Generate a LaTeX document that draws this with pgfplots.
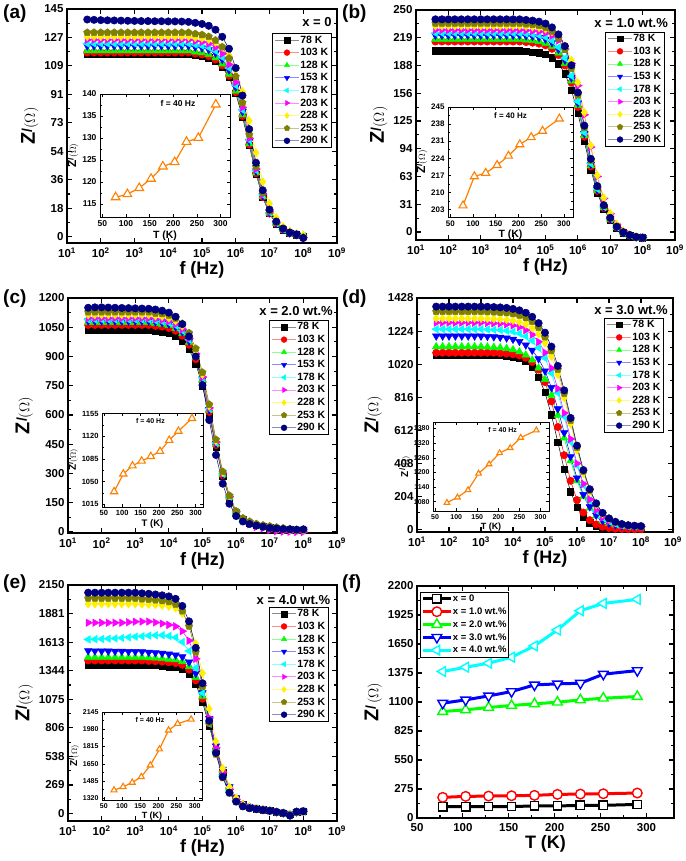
\documentclass[border=0pt]{standalone}
\usepackage{fontspec}
\setmainfont{Liberation Sans}
\usepackage{pgfplots}
\usepackage{pgfplotstable}
\pgfplotsset{compat=1.18}

\definecolor{cgreen}{RGB}{0,255,0}
\definecolor{ccyan}{RGB}{0,255,255}
\definecolor{cmag}{RGB}{255,0,255}
\definecolor{cyel}{RGB}{255,240,0}
\definecolor{colive}{RGB}{128,128,0}
\definecolor{cnavy}{RGB}{0,0,128}
\definecolor{corange}{RGB}{255,128,0}

\newcommand{\fs}[1]{\fontsize{#1}{#1}\selectfont}
\newcommand{\zlab}[2]{{\fs{#1}\bfseries Z}\raisebox{0.55ex}{\fs{#2}\bfseries /}{\fs{#2}$(\Omega)$}}
\newcommand{\tsup}[1]{10\textsuperscript{#1}}

% columns: f, then 78 103 128 153 178 203 228 253 290 K
\pgfplotstableread{
f c1 c2 c3 c4 c5 c6 c7 c8 c9
39.8 116.3 117.3 118.4 121.5 123.0 125.4 127.4 130.0 138.3
63.1 116.3 117.3 118.4 121.5 123.0 125.4 127.4 130.0 138.1
100 116.3 117.3 118.4 121.5 123.0 125.4 127.4 130.0 137.9
158 116.3 117.3 118.4 121.5 123.0 125.4 127.4 130.0 137.8
251 116.3 117.3 118.4 121.5 123.0 125.4 127.4 130.0 137.7
398 116.3 117.3 118.4 121.5 123.0 125.4 127.4 130.0 137.6
631 116.3 117.3 118.4 121.5 123.0 125.4 127.4 130.0 137.5
1000 116.3 117.3 118.4 121.5 123.0 125.4 127.4 130.0 137.4
1585 116.3 117.3 118.4 121.5 123.0 125.4 127.4 130.0 137.3
2512 116.3 117.3 118.4 121.5 123.0 125.4 127.4 130.0 137.3
3981 116.3 117.3 118.4 121.5 123.0 125.4 127.4 130.0 137.2
6310 116.3 117.3 118.4 121.5 123.0 125.4 127.4 130.0 137.2
1e4 116.3 117.3 118.4 121.5 123.0 125.4 127.4 130.0 137.1
1.585e4 116.3 117.3 118.4 121.5 123.0 125.4 127.4 130.0 137.1
2.512e4 116.3 117.3 118.4 121.5 123.0 125.4 127.4 130.0 137.0
3.981e4 116.3 117.3 118.4 121.5 123.0 125.4 127.4 130.0 136.8
6.31e4 115.6 116.6 117.7 120.8 122.3 124.6 126.8 129.2 136.2
1e5 115.0 116.0 117.1 120.2 121.6 124.0 126.4 128.6 135.5
1.585e5 114.0 115.0 116.0 119.1 120.5 122.9 125.5 127.4 134.3
2.512e5 111.9 112.8 113.9 116.9 118.3 120.6 123.8 125.1 131.8
3.981e5 108.0 109.0 110.0 112.9 114.3 116.5 120.8 120.8 127.3
6.31e5 101.6 102.5 103.5 106.2 107.5 109.6 115.3 113.6 119.7
1e6 91.2 92.0 92.8 95.3 96.4 98.3 106.3 101.9 107.4
1.585e6 76.3 76.9 77.7 79.7 80.7 82.3 92.4 85.3 89.9
2.512e6 58.2 58.7 59.2 60.8 61.5 62.7 73.9 65.0 68.5
3.981e6 40.0 40.4 40.7 41.8 42.3 43.1 53.5 44.7 47.1
6.31e6 25.1 25.3 25.6 26.2 26.6 27.1 35.0 28.1 29.6
1e7 14.7 14.8 14.9 15.3 15.5 15.8 21.1 16.4 17.3
1.585e7 8.3 8.3 8.4 8.6 8.7 8.9 12.1 9.2 9.7
2.512e7 4.4 4.5 4.5 4.6 4.7 4.8 6.6 4.9 5.2
3.981e7 2.3 2.3 2.4 2.4 2.5 2.5 3.6 2.6 2.7
6.31e7 1.3 1.3 1.3 1.3 1.4 1.4 1.9 1.4 1.5
1e8 0.2 -0.5 0.8 -0.3 0.4 -0.6 1.0 -0.4 -0.8
}\tabA

\pgfplotstableread{
f c1 c2 c3 c4 c5 c6 c7 c8 c9
39.8 204 214.5 217 221.5 224 227.5 232 235 239.5
63.1 204 214.5 217 221.5 224 227.5 232 235 239.5
100 204 214.5 217 221.5 224 227.5 232 235 239.5
158 204 214.5 217 221.5 224 227.5 232 235 239.5
251 204 214.5 217 221.5 224 227.5 232 235 239.5
398 204 214.5 217 221.5 224 227.5 232 235 239.5
631 204 214.5 217 221.5 224 227.5 232 235 239.5
1000 204 214.5 217 221.5 224 227.5 232 235 239.5
1585 204 214.5 217 221.5 224 227.5 232 235 239.5
2512 204 214.5 217 221.5 224 227.5 232 235 239.5
3981 204 214.5 217 221.5 224 227.5 232 235 239.5
6310 204 214.5 217 221.5 224 227.5 232 235 239.5
1e4 204 214.5 217 221.5 224 227.5 232 235 239.5
1.585e4 204 214.5 217 221.5 224 227.5 232 235 239.5
2.512e4 203.4 213.9 216.3 220.8 223.3 227.0 231.5 234.3 238.8
3.981e4 202.8 213.2 215.7 220.2 222.7 226.4 230.8 233.6 238.1
6.31e4 201.8 212.1 214.6 219.1 221.5 225.7 230.1 232.4 236.9
1e5 199.9 210.2 212.7 217.1 219.5 224.1 228.5 230.3 234.7
1.585e5 196.2 206.3 208.8 213.1 215.5 221.1 225.5 226.1 230.4
2.512e5 189.5 199.3 201.6 205.8 208.1 215.7 219.9 218.3 222.5
3.981e5 178.3 187.5 189.7 193.6 195.8 205.9 210.0 205.4 209.3
6.31e5 159.9 168.2 170.1 173.7 175.6 189.7 193.5 184.2 187.8
1e6 133.8 140.7 142.4 145.3 146.9 164.9 168.2 154.2 157.1
1.585e6 102.0 107.3 108.5 110.8 112.0 132.0 134.6 117.5 119.8
2.512e6 70.2 73.8 74.6 76.2 77.1 95.6 97.4 80.8 82.4
3.981e6 44.1 46.3 46.9 47.8 48.4 62.6 63.8 50.8 51.7
6.31e6 25.7 27.0 27.3 27.9 28.2 37.8 38.5 29.6 30.2
1e7 13.5 14.2 14.4 14.7 14.9 20.6 21.0 15.7 16.0
1.585e7 4.8 5.2 5.2 5.4 5.5 8.8 9.1 5.9 6.1
2.512e7 -0.9 -0.7 -0.7 -0.6 -0.5 1.4 1.5 -0.3 -0.2
3.981e7 -3.8 -3.6 -3.6 -3.6 -3.5 -2.6 -2.5 -3.4 -3.4
6.31e7 -5.8 -5.7 -5.7 -5.7 -5.7 -5.2 -5.1 -5.6 -5.6
1e8 -6.4 -6.4 -6.3 -6.3 -6.3 -6.1 -6.1 -6.3 -6.3
}\tabB

\pgfplotstableread{
f c1 c2 c3 c4 c5 c6 c7 c8 c9
39.8 1035 1062 1075 1082 1089 1097 1114 1128 1150
63.1 1035 1062 1075 1082 1089 1097 1114 1128 1152
100 1035 1062 1075 1082 1089 1097 1114 1128 1152
158 1035 1062 1075 1082 1089 1097 1114 1128 1151
251 1035 1062 1075 1082 1089 1097 1114 1128 1150
398 1035 1062 1075 1082 1089 1097 1114 1128 1149
631 1035 1062 1075 1082 1089 1097 1114 1128 1148
1000 1035 1062 1075 1082 1089 1097 1114 1128 1147
1585 1035 1062 1075 1082 1089 1097 1114 1128 1146
2512 1035 1062 1075 1082 1089 1097 1114 1128 1145
3981 1030 1057 1070 1077 1084 1092 1108 1122 1141
6310 1027 1053 1066 1073 1080 1088 1105 1119 1135
1e4 1019 1046 1059 1066 1073 1081 1097 1111 1125
1.585e4 1006 1032 1045 1052 1059 1066 1083 1096 1104
2.512e4 981 1007 1019 1026 1032 1040 1056 1069 1066
3.981e4 937 961 973 979 986 993 1008 1021 1003
6.31e4 863 886 897 902 908 915 929 941 900
1e5 750 770 779 784 790 795 808 818 753
1.585e5 600 616 624 628 632 636 646 654 574
2.512e5 435 446 452 454 457 461 468 474 395
3.981e5 285 292 296 298 299 302 306 310 248
6.31e5 172 176 178 180 181 182 185 187 145
1e6 98 101 102 103 103 104 106 107 82
1.585e6 64 65 66 66 67 62 68 71 54
2.512e6 47 48 48 48 48 40 49 54 41
3.981e6 36 36 36 36 36 26 37 42 33
6.31e6 28 28 29 29 29 19 29 35 27
1e7 22 22 22 22 22 10 22 30 21
1.585e7 18 18 18 18 18 4 18 24 18
2.512e7 14 14 14 14 14 2 14 20 15
3.981e7 12 12 12 12 12 1 12 16 14
6.31e7 10 10 10 10 10 0 10 12 12
1e8 10 10 10 10 10 0 10 10 14
}\tabC

\pgfplotstableread{
f c1 c2 c3 c4 c5 c6 c7 c8 c9
39.8 1077 1090 1128 1193 1236 1276 1302 1344 1375
63.1 1077 1090 1128 1193 1236 1276 1302 1344 1375
100 1077 1090 1128 1193 1236 1276 1302 1344 1375
158 1077 1090 1128 1193 1236 1276 1302 1344 1375
251 1077 1090 1128 1193 1236 1276 1302 1344 1375
398 1077 1090 1128 1193 1236 1276 1302 1344 1375
631 1077 1090 1128 1193 1236 1276 1302 1344 1375
1000 1077 1090 1128 1193 1236 1276 1302 1344 1375
1585 1077 1090 1126 1191 1234 1274 1301 1343 1374
2512 1077 1090 1124 1188 1232 1272 1299 1341 1372
3981 1074 1087 1121 1186 1230 1270 1297 1339 1370
6310 1071 1085 1117 1181 1226 1266 1294 1336 1367
1e4 1065 1081 1109 1173 1220 1259 1289 1331 1361
1.585e4 1055 1074 1096 1160 1209 1248 1280 1321 1352
2.512e4 1036 1059 1076 1138 1192 1230 1266 1306 1337
3.981e4 1000 1033 1045 1105 1164 1202 1242 1282 1312
6.31e4 941 986 996 1053 1121 1157 1206 1245 1273
1e5 844 909 925 978 1057 1091 1150 1187 1214
1.585e5 707 790 828 876 964 995 1068 1102 1128
2.512e5 539 632 704 744 842 869 956 986 1009
3.981e5 370 458 564 597 696 718 812 839 858
6.31e5 233 300 424 449 540 558 651 672 688
1e6 136 181 300 317 394 407 490 505 517
1.585e6 76 104 203 215 272 281 346 358 366
2.512e6 41 57 132 140 179 185 234 242 248
3.981e6 22 31 83 88 115 119 152 157 161
6.31e6 12 16 52 55 72 74 96 99 102
1e7 6 9 37 38 49 51 65 67 68
1.585e7 3 5 27 28 35 36 44 46 47
2.512e7 2 3 21 22 26 27 32 33 33
3.981e7 1 2 19 19 22 22 25 25 26
6.31e7 1 1 19 19 20 20 22 22 22
1e8 1 1 17 17 18 18 19 19 20
}\tabD

\pgfplotstableread{
f c1 c2 c3 c4 c5 c6 c7 c8 c9
39.8 1399 1440 1471 1532 1638 1795 1972 2025 2078
63.1 1399 1440 1471 1530 1640 1795 1972 2025 2078
100 1399 1440 1471 1529 1642 1795 1972 2025 2078
158 1399 1440 1471 1528 1645 1795 1972 2025 2078
251 1399 1440 1471 1527 1648 1795 1972 2025 2078
398 1399 1440 1471 1526 1652 1795 1972 2025 2078
631 1399 1440 1471 1525 1658 1800 1972 2025 2078
1000 1399 1440 1471 1524 1664 1805 1972 2025 2078
1585 1399 1440 1471 1523 1668 1806 1970 2019 2072
2512 1395 1436 1467 1517 1674 1806 1968 2015 2068
3981 1392 1433 1464 1513 1677 1798 1964 2009 2061
6310 1388 1429 1459 1508 1678 1787 1958 2001 2053
1e4 1382 1423 1453 1501 1670 1775 1948 1991 2043
1.585e4 1375 1416 1446 1492 1656 1761 1933 1968 2020
2.512e4 1360 1400 1430 1475 1614 1716 1883 1904 1953
3.981e4 1315 1354 1383 1425 1529 1626 1785 1762 1808
6.31e4 1217 1253 1280 1318 1369 1456 1597 1519 1559
1e5 1049 1080 1103 1136 1132 1204 1321 1195 1226
1.585e5 825 850 868 894 845 899 986 851 873
2.512e5 588 605 618 636 581 618 678 557 571
3.981e5 385 396 405 417 365 388 426 336 345
6.31e5 232 239 244 251 213 226 248 192 197
1e6 138 142 145 149 125 133 145 110 113
1.585e6 83 85 86 89 74 78 85 67 68
2.512e6 59 60 61 62 54 56 59 50 51
3.981e6 46 47 47 48 44 45 47 41 42
6.31e6 36 37 37 37 35 36 37 33 33
1e7 28 28 28 28 27 27 28 26 26
1.585e7 15 15 15 15 15 15 15 15 15
2.512e7 5 5 5 5 5 5 5 5 5
3.981e7 -10 -12 -8 -10 -14 -9 -11 -13 -20
6.31e7 15 14 16 15 13 15 16 14 18
1e8 20 19 21 20 18 20 21 19 22
}\tabE

\newcommand{\ninecurves}[1]{%
  \addplot[black, line width=0.5pt, mark=square*, mark size=3.1pt] table[x=f,y=c1]{#1};
  \addplot[red, line width=0.5pt, mark=*, mark size=3.7pt] table[x=f,y=c2]{#1};
  \addplot[cgreen, line width=0.5pt, mark=triangle*, mark size=4.3pt] table[x=f,y=c3]{#1};
  \addplot[blue, line width=0.5pt, mark=triangle*, mark size=4.3pt, mark options={rotate=180}] table[x=f,y=c4]{#1};
  \addplot[ccyan, line width=0.5pt, mark=triangle*, mark size=4.3pt, mark options={rotate=90}] table[x=f,y=c5]{#1};
  \addplot[cmag, line width=0.5pt, mark=triangle*, mark size=4.3pt, mark options={rotate=-90}] table[x=f,y=c6]{#1};
  \addplot[cyel, line width=0.5pt, mark=diamond*, mark size=4.1pt] table[x=f,y=c7]{#1};
  \addplot[colive, line width=0.5pt, mark=pentagon*, mark size=3.8pt] table[x=f,y=c8]{#1};
  \addplot[cnavy, line width=0.5pt, mark=*, mark size=3.7pt] table[x=f,y=c9]{#1};
  \legend{78 K,103 K,128 K,153 K,178 K,203 K,228 K,253 K,290 K}}

\begin{document}
\begin{tikzpicture}
\useasboundingbox (0pt,0pt) rectangle (685pt,-861pt);

% ---------- (a)
\begin{axis}[scale only axis, at={(67pt,-243pt)}, anchor=south west, width=270pt, height=234pt,
  xmode=log, xmin=10, xmax=1e9,
  xtick={1e1,1e2,1e3,1e4,1e5,1e6,1e7,1e8,1e9},
  xticklabels={\tsup{1},\tsup{2},\tsup{3},\tsup{4},\tsup{5},\tsup{6},\tsup{7},\tsup{8},\tsup{9}},
  xminorticks=false, minor y tick num=1,
  tick align=inside, major tick length=5pt, minor tick length=3pt,
  axis line style={line width=1.4pt}, every tick/.style={black, line width=1.1pt},
  tick label style={font=\bfseries\fs{11.5}}, xticklabel style={yshift=-1pt},
  xlabel={f (Hz)}, xlabel style={font=\bfseries\fs{18}, yshift=3pt},
  ylabel={\zlab{20}{14}}, ylabel style={yshift=-1pt},
  legend cell align=left,
  legend image code/.code={\draw[#1, mark=none, draw opacity=0.45, line width=0.9pt] (0pt,0pt) -- (24pt,0pt); \draw[#1, mark size=2.9pt] plot coordinates {(12pt,0pt)};},
  legend style={at={(0.981,0.897)}, anchor=north east, font=\bfseries\fs{10.5}, draw=black, line width=0.6pt,
    inner sep=1pt, inner xsep=2.5pt, row sep=1.4pt, nodes={inner sep=0.8pt, text height=7.8pt, text depth=1.8pt},
    /tikz/every even column/.append style={column sep=2pt}},
  ymin=-4, ymax=145,
  ytick={0,18.125,36.25,54.375,72.5,90.625,108.75,126.875,145},
  yticklabels={0,18,36,54,73,91,109,127,145}]
\ninecurves{\tabA}
\node[anchor=north east, font=\bfseries\fs{13}, inner sep=0pt] at (rel axis cs:0.981,0.965) {x = 0};
\end{axis}
\begin{axis}[scale only axis, at={(100pt,-217pt)}, anchor=south west, width=130pt, height=123pt,
  axis background/.style={fill=white},
  xmin=45, xmax=320, xtick={50,100,150,200,250,300}, minor y tick num=1,
  tick align=inside, major tick length=3pt, minor tick length=1.8pt,
  axis line style={line width=0.8pt}, every tick/.style={black, line width=0.6pt},
  /pgf/number format/assume math mode=true, /pgf/number format/1000 sep={},
  xlabel={T (K)}, xlabel style={yshift=3pt, font=\bfseries\fs{10.5}},
  ylabel={\zlab{12}{9}}, ylabel style={yshift=-3pt},
  ymin=112, ymax=140, ytick={115,120,125,130,135,140},
  tick label style={font=\bfseries\fs{8.5}}]
\addplot[corange, line width=1.2pt, mark=triangle*, mark size=5pt, mark options={fill=white, line width=1.1pt}]
  coordinates {(78,116.5) (103,117.2) (128,118.6) (153,120.7) (178,123.5) (203,124.5) (228,129.1) (253,130.0) (290,137.6)};
\node[anchor=north, font=\bfseries\fs{8.5}] at (rel axis cs:0.6,0.98) {f = 40 Hz};
\end{axis}

% ---------- (b)
\begin{axis}[scale only axis, at={(416pt,-240pt)}, anchor=south west, width=259pt, height=230pt,
  xmode=log, xmin=10, xmax=1e9,
  xtick={1e1,1e2,1e3,1e4,1e5,1e6,1e7,1e8,1e9},
  xticklabels={\tsup{1},\tsup{2},\tsup{3},\tsup{4},\tsup{5},\tsup{6},\tsup{7},\tsup{8},\tsup{9}},
  xminorticks=false, minor y tick num=1,
  tick align=inside, major tick length=5pt, minor tick length=3pt,
  axis line style={line width=1.4pt}, every tick/.style={black, line width=1.1pt},
  tick label style={font=\bfseries\fs{11.5}}, xticklabel style={yshift=-1pt},
  xlabel={f (Hz)}, xlabel style={font=\bfseries\fs{18}, yshift=3pt},
  ylabel={\zlab{20}{14}}, ylabel style={yshift=-1pt},
  legend cell align=left,
  legend image code/.code={\draw[#1, mark=none, draw opacity=0.45, line width=0.9pt] (0pt,0pt) -- (24pt,0pt); \draw[#1, mark size=2.9pt] plot coordinates {(12pt,0pt)};},
  legend style={at={(0.961,0.905)}, anchor=north east, font=\bfseries\fs{10.5}, draw=black, line width=0.6pt,
    inner sep=1pt, inner xsep=2.5pt, row sep=1.4pt, nodes={inner sep=0.8pt, text height=7.8pt, text depth=1.8pt},
    /tikz/every even column/.append style={column sep=2pt}},
  ymin=-9, ymax=250,
  ytick={0,31.25,62.5,93.75,125,156.25,187.5,218.75,250},
  yticklabels={0,31,63,94,125,156,188,219,250}]
\ninecurves{\tabB}
\node[anchor=north east, font=\bfseries\fs{13}, inner sep=0pt] at (rel axis cs:0.973,0.965) {x = 1.0 wt.\%};
\end{axis}
\begin{axis}[scale only axis, at={(448pt,-217pt)}, anchor=south west, width=125pt, height=110pt,
  axis background/.style={fill=white},
  xmin=45, xmax=320, xtick={50,100,150,200,250,300}, minor y tick num=1,
  tick align=inside, major tick length=3pt, minor tick length=1.8pt,
  axis line style={line width=0.8pt}, every tick/.style={black, line width=0.6pt},
  /pgf/number format/assume math mode=true, /pgf/number format/1000 sep={},
  xlabel={T (K)}, xlabel style={yshift=3pt, font=\bfseries\fs{10.5}},
  ylabel={\zlab{12}{9}}, ylabel style={yshift=-3pt},
  ymin=200, ymax=245, ytick={203,210,217,224,231,238,245},
  tick label style={font=\bfseries\fs{8}}]
\addplot[corange, line width=1.2pt, mark=triangle*, mark size=4.6pt, mark options={fill=white, line width=1.1pt}]
  coordinates {(78,204.7) (103,216.6) (128,218.0) (153,221.2) (178,225.0) (203,229.7) (228,232.6) (253,235.2) (290,240.2)};
\node[anchor=north, font=\bfseries\fs{8}] at (rel axis cs:0.5,0.98) {f = 40 Hz};
\end{axis}

% ---------- (c)
\begin{axis}[scale only axis, at={(68pt,-533pt)}, anchor=south west, width=269pt, height=235pt,
  xmode=log, xmin=10, xmax=1e9,
  xtick={1e1,1e2,1e3,1e4,1e5,1e6,1e7,1e8,1e9},
  xticklabels={\tsup{1},\tsup{2},\tsup{3},\tsup{4},\tsup{5},\tsup{6},\tsup{7},\tsup{8},\tsup{9}},
  xminorticks=false, minor y tick num=1,
  tick align=inside, major tick length=5pt, minor tick length=3pt,
  axis line style={line width=1.4pt}, every tick/.style={black, line width=1.1pt},
  tick label style={font=\bfseries\fs{11.5}}, xticklabel style={yshift=-1.5pt},
  xlabel={f (Hz)}, xlabel style={font=\bfseries\fs{18}, yshift=3pt},
  ylabel={\zlab{20}{14}}, ylabel style={yshift=-1pt},
  legend cell align=left,
  legend image code/.code={\draw[#1, mark=none, draw opacity=0.45, line width=0.9pt] (0pt,0pt) -- (24pt,0pt); \draw[#1, mark size=2.9pt] plot coordinates {(12pt,0pt)};},
  legend style={at={(0.97,0.906)}, anchor=north east, font=\bfseries\fs{10.5}, draw=black, line width=0.6pt,
    inner sep=1pt, inner xsep=2.5pt, row sep=1.4pt, nodes={inner sep=0.8pt, text height=7.8pt, text depth=1.8pt},
    /tikz/every even column/.append style={column sep=2pt}},
  ymin=-5, ymax=1200,
  ytick={0,150,300,450,600,750,900,1050,1200},
  yticklabels={0,150,300,450,600,750,900,1050,1200}]
\ninecurves{\tabC}
\node[anchor=north east, font=\bfseries\fs{13}, inner sep=0pt] at (rel axis cs:0.985,0.966) {x = 2.0 wt.\%};
\end{axis}
\begin{axis}[scale only axis, at={(102pt,-507pt)}, anchor=south west, width=101pt, height=94pt,
  axis background/.style={fill=white},
  xmin=45, xmax=320, xtick={50,100,150,200,250,300}, minor y tick num=1,
  tick align=inside, major tick length=3pt, minor tick length=1.8pt,
  axis line style={line width=0.8pt}, every tick/.style={black, line width=0.6pt},
  /pgf/number format/assume math mode=true, /pgf/number format/1000 sep={},
  xlabel={T (K)}, xlabel style={yshift=3pt, font=\bfseries\fs{9.5}},
  ylabel={\zlab{10}{8}}, ylabel style={yshift=-3pt},
  ymin=1011, ymax=1156, ytick={1015,1050,1085,1120,1155},
  tick label style={font=\bfseries\fs{7.5}}]
\addplot[corange, line width=1.2pt, mark=triangle*, mark size=4.2pt, mark options={fill=white, line width=1.1pt}]
  coordinates {(78,1034.7) (103,1062) (128,1074.6) (153,1082) (178,1089) (203,1097) (228,1114) (253,1128) (290,1147.7)};
\node[anchor=north, font=\bfseries\fs{7}] at (rel axis cs:0.48,0.98) {f = 40 Hz};
\end{axis}

% ---------- (d)
\begin{axis}[scale only axis, at={(417pt,-532pt)}, anchor=south west, width=256pt, height=234pt,
  xmode=log, xmin=10, xmax=1e9,
  xtick={1e1,1e2,1e3,1e4,1e5,1e6,1e7,1e8,1e9},
  xticklabels={\tsup{1},\tsup{2},\tsup{3},\tsup{4},\tsup{5},\tsup{6},\tsup{7},\tsup{8},\tsup{9}},
  xminorticks=false, minor y tick num=1,
  tick align=inside, major tick length=5pt, minor tick length=3pt,
  axis line style={line width=1.4pt}, every tick/.style={black, line width=1.1pt},
  tick label style={font=\bfseries\fs{11.5}}, xticklabel style={yshift=-1pt},
  xlabel={f (Hz)}, xlabel style={font=\bfseries\fs{18}, yshift=3pt},
  ylabel={\zlab{20}{14}}, ylabel style={yshift=-1pt},
  legend cell align=left,
  legend image code/.code={\draw[#1, mark=none, draw opacity=0.45, line width=0.9pt] (0pt,0pt) -- (24pt,0pt); \draw[#1, mark size=2.9pt] plot coordinates {(12pt,0pt)};},
  legend style={at={(0.965,0.915)}, anchor=north east, font=\bfseries\fs{10.5}, draw=black, line width=0.6pt,
    inner sep=1pt, inner xsep=2.5pt, row sep=1.4pt, nodes={inner sep=0.8pt, text height=7.8pt, text depth=1.8pt},
    /tikz/every even column/.append style={column sep=2pt}},
  ymin=-16, ymax=1428,
  ytick={0,204,408,612,816,1020,1224,1428},
  yticklabels={0,204,408,612,816,1020,1224,1428}]
\ninecurves{\tabD}
\node[anchor=north east, font=\bfseries\fs{13}, inner sep=0pt] at (rel axis cs:0.98,0.97) {x = 3.0 wt.\%};
\end{axis}
\begin{axis}[scale only axis, at={(433pt,-511pt)}, anchor=south west, width=116pt, height=89pt,
  axis background/.style={fill=white},
  xmin=45, xmax=320, xtick={50,100,150,200,250,300}, minor y tick num=1,
  tick align=inside, major tick length=3pt, minor tick length=1.8pt,
  axis line style={line width=0.8pt}, every tick/.style={black, line width=0.6pt},
  /pgf/number format/assume math mode=true, /pgf/number format/1000 sep={},
  xlabel={T (K)}, xlabel style={yshift=3pt, font=\bfseries\fs{9}},
  ylabel={\zlab{10}{8}}, ylabel style={yshift=-3pt},
  ymin=1042, ymax=1407, ytick={1080,1140,1200,1260,1320,1380},
  tick label style={font=\bfseries\fs{7}}]
\addplot[corange, line width=1.2pt, mark=triangle*, mark size=3.2pt, mark options={fill=white, line width=1.1pt}]
  coordinates {(78,1076) (103,1098) (128,1128) (153,1196) (178,1234) (203,1280) (228,1301) (253,1343) (290,1373)};
\node[anchor=north, font=\bfseries\fs{7}] at (rel axis cs:0.6,0.98) {f = 40 Hz};
\end{axis}

% ---------- (e)
\begin{axis}[scale only axis, at={(68pt,-821pt)}, anchor=south west, width=269pt, height=236pt,
  xmode=log, xmin=10, xmax=1e9,
  xtick={1e1,1e2,1e3,1e4,1e5,1e6,1e7,1e8,1e9},
  xticklabels={\tsup{1},\tsup{2},\tsup{3},\tsup{4},\tsup{5},\tsup{6},\tsup{7},\tsup{8},\tsup{9}},
  xminorticks=false, minor y tick num=1,
  tick align=inside, major tick length=5pt, minor tick length=3pt,
  axis line style={line width=1.4pt}, every tick/.style={black, line width=1.1pt},
  tick label style={font=\bfseries\fs{11.5}}, xticklabel style={yshift=-1pt},
  xlabel={f (Hz)}, xlabel style={font=\bfseries\fs{18}, yshift=3pt},
  ylabel={\zlab{20}{14}}, ylabel style={yshift=-1pt},
  legend cell align=left,
  legend image code/.code={\draw[#1, mark=none, draw opacity=0.45, line width=0.9pt] (0pt,0pt) -- (24pt,0pt); \draw[#1, mark size=2.9pt] plot coordinates {(12pt,0pt)};},
  legend style={at={(0.97,0.907)}, anchor=north east, font=\bfseries\fs{10.5}, draw=black, line width=0.6pt,
    inner sep=1pt, inner xsep=2.5pt, row sep=1.4pt, nodes={inner sep=0.8pt, text height=7.8pt, text depth=1.8pt},
    /tikz/every even column/.append style={column sep=2pt}},
  ymin=-70, ymax=2150,
  ytick={0,268.75,537.5,806.25,1075,1343.75,1612.5,1881.25,2150},
  yticklabels={0,269,538,806,1075,1344,1613,1881,2150}]
\ninecurves{\tabE}
\node[anchor=north east, font=\bfseries\fs{13}, inner sep=0pt] at (rel axis cs:0.975,0.958) {x = 4.0 wt.\%};
\end{axis}
\begin{axis}[scale only axis, at={(102pt,-800pt)}, anchor=south west, width=100pt, height=88pt,
  axis background/.style={fill=white},
  xmin=45, xmax=320, xtick={50,100,150,200,250,300}, minor y tick num=1,
  tick align=inside, major tick length=3pt, minor tick length=1.8pt,
  axis line style={line width=0.8pt}, every tick/.style={black, line width=0.6pt},
  /pgf/number format/assume math mode=true, /pgf/number format/1000 sep={},
  xlabel={T (K)}, xlabel style={yshift=3pt, font=\bfseries\fs{9}},
  ylabel={\zlab{10}{8}}, ylabel style={yshift=-3pt},
  ymin=1305, ymax=2145, ytick={1320,1485,1650,1815,1980,2145},
  tick label style={font=\bfseries\fs{7}}]
\addplot[corange, line width=1.2pt, mark=triangle*, mark size=3.5pt, mark options={fill=white, line width=1.1pt}]
  coordinates {(78,1399) (103,1431) (128,1472) (153,1526) (178,1637) (203,1790) (228,1971) (253,2034) (290,2075)};
\node[anchor=north, font=\bfseries\fs{7}] at (rel axis cs:0.48,0.98) {f = 40 Hz};
\end{axis}

% ---------- (f)
\begin{axis}[scale only axis, at={(417pt,-818pt)}, anchor=south west, width=257pt, height=232pt,
  xmin=50, xmax=330, ymin=0, ymax=2200,
  xtick={50,100,150,200,250,300},
  ytick={0,275,550,825,1100,1375,1650,1925,2200},
  minor x tick num=1, minor y tick num=1,
  tick align=inside, major tick length=5pt, minor tick length=3pt,
  axis line style={line width=1.4pt}, every tick/.style={black, line width=1.1pt},
  /pgf/number format/assume math mode=true, /pgf/number format/1000 sep={},
  tick label style={font=\bfseries\fs{11.5}}, xticklabel style={yshift=-1.5pt},
  xlabel={T (K)}, xlabel style={font=\bfseries\fs{18}, yshift=3pt},
  ylabel={{\fs{20}\bfseries Z}\raisebox{0.55ex}{\fs{14}\bfseries /}\,{\fs{14}$(\Omega)$}},
  ylabel style={yshift=-1pt},
  legend cell align=left,
  legend image code/.code={\draw[mark repeat=2,mark phase=2,#1] plot coordinates {(0pt,0pt) (14pt,0pt) (28pt,0pt)};},
  legend style={at={(0.012,0.975)}, anchor=north west, font=\bfseries\fs{9.5}, draw=black, line width=0.6pt,
    inner sep=1pt, row sep=1.2pt, nodes={inner sep=0.6pt, text height=8pt, text depth=2.4pt}}]
\addplot[black, line width=3pt, mark=square*, mark size=4.2pt, mark options={fill=white, line width=1.4pt}]
  coordinates {(78,107) (103,107) (128,109) (153,109) (178,114) (203,114) (228,120) (253,120) (290,129)};
\addplot[red, line width=3pt, mark=*, mark size=4.8pt, mark options={fill=white, line width=1.4pt}]
  coordinates {(78,196) (103,205) (128,208) (153,211) (178,215) (203,224) (228,227) (253,230) (290,237)};
\addplot[cgreen, line width=3pt, mark=triangle*, mark size=5.6pt, mark options={fill=white, line width=1.4pt}]
  coordinates {(78,1010) (103,1026) (128,1048) (153,1067) (178,1083) (203,1098) (228,1120) (253,1136) (290,1152)};
\addplot[blue, line width=3pt, mark=triangle*, mark size=5.6pt, mark options={fill=white, line width=1.4pt, rotate=180}]
  coordinates {(78,1089) (103,1120) (128,1158) (153,1199) (178,1262) (203,1272) (228,1278) (253,1364) (290,1398)};
\addplot[ccyan, line width=3pt, mark=triangle*, mark size=5.6pt, mark options={fill=white, line width=1.4pt, rotate=90}]
  coordinates {(78,1389) (103,1430) (128,1468) (153,1525) (178,1632) (203,1783) (228,1966) (253,2035) (290,2073)};
\legend{x = 0,x = 1.0 wt.\%,x = 2.0 wt.\%,x = 3.0 wt.\%,x = 4.0 wt.\%}
\end{axis}

% panel letters
\node[anchor=north west, font=\bfseries\fs{19}, inner sep=0pt] at (3pt,-5pt) {(a)};
\node[anchor=north west, font=\bfseries\fs{19}, inner sep=0pt] at (342pt,-5pt) {(b)};
\node[anchor=north west, font=\bfseries\fs{19}, inner sep=0pt] at (3pt,-290pt) {(c)};
\node[anchor=north west, font=\bfseries\fs{19}, inner sep=0pt] at (342pt,-290pt) {(d)};
\node[anchor=north west, font=\bfseries\fs{19}, inner sep=0pt] at (3pt,-575pt) {(e)};
\node[anchor=north west, font=\bfseries\fs{19}, inner sep=0pt] at (342pt,-575pt) {(f)};
\end{tikzpicture}
\end{document}
